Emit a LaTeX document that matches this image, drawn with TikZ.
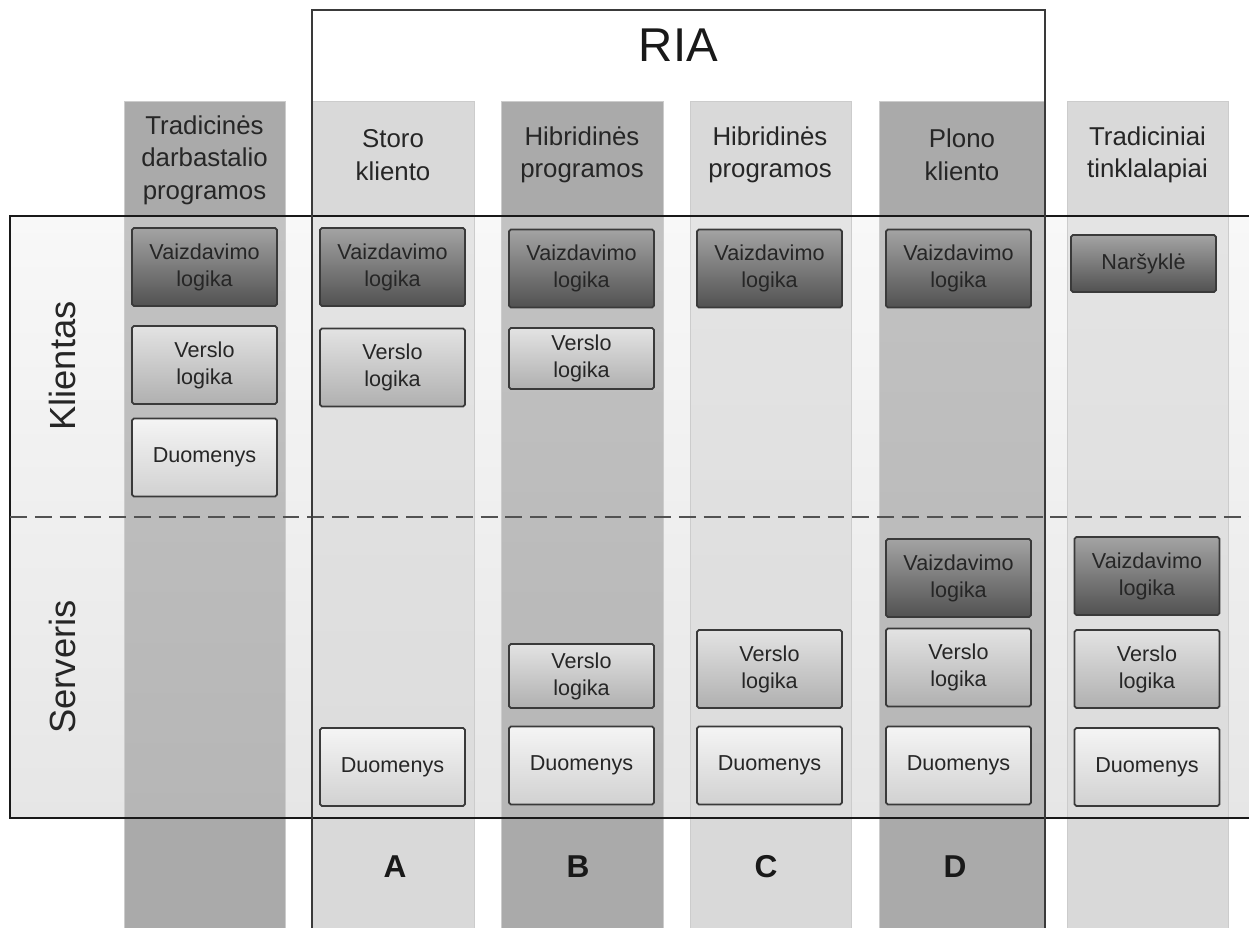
\documentclass[tikz,border=0pt]{standalone}
\usepackage{fontspec}
\setmainfont{Liberation Sans}
\definecolor{darkcol}{HTML}{AAAAAA}
\definecolor{lightcol}{HTML}{D9D9D9}
\definecolor{darkin}{HTML}{C2C2C2}
\definecolor{darkinb}{HTML}{B6B6B6}
\definecolor{lightin}{HTML}{E4E4E4}
\definecolor{lightinb}{HTML}{DCDCDC}
\definecolor{lanetop}{HTML}{F8F8F8}
\definecolor{lanebot}{HTML}{E6E6E6}
\definecolor{edge}{HTML}{3A3A3A}
\tikzset{
  box/.style={draw=edge, line width=1pt, rounded corners=1pt, minimum width=2.9cm,
    minimum height=1.56cm, align=center, inner sep=0pt, text=black!85,
    font=\fontsize{12.3}{15.3}\selectfont},
  viewbox/.style={box, top color=black!36, bottom color=black!68},
  logicbox/.style={box, top color=black!11, bottom color=black!31},
  databox/.style={box, top color=black!4, bottom color=black!18},
  headtext/.style={align=center, text=black!85, font=\fontsize{14.7}{18.5}\selectfont},
  lanetext/.style={rotate=90, text=black!85, font=\fontsize{20.7}{24}\selectfont},
  lettertext/.style={text=black!90, font=\fontsize{18}{20}\selectfont\bfseries},
  coledge/.style={draw=black!20, line width=0.5pt}
}
\begin{document}
\begin{tikzpicture}[x=0.02cm, y=-0.02cm]
\clip (0,0) rectangle (1249,928);
\fill[white] (0,0) rectangle (1249,928);

% lane background (Klientas / Serveris)
\shade[top color=lanetop, bottom color=lanebot] (10,216) rectangle (1270,818);

% dark columns: header part, lane part, footer part
\foreach \l/\r in {124/285, 501/663, 879/1044}{
  \fill[darkcol] (\l,101) rectangle (\r,216);
  \shade[top color=darkin, bottom color=darkinb] (\l,216) rectangle (\r,818);
  \fill[darkcol] (\l,818) rectangle (\r,940);
  \draw[coledge] (\l,940) -- (\l,101) -- (\r,101) -- (\r,940);
}
% light columns
\foreach \l/\r in {312/474, 690/851, 1067/1228}{
  \fill[lightcol] (\l,101) rectangle (\r,216);
  \shade[top color=lightin, bottom color=lightinb] (\l,216) rectangle (\r,818);
  \fill[lightcol] (\l,818) rectangle (\r,940);
  \draw[coledge] (\l,940) -- (\l,101) -- (\r,101) -- (\r,940);
}

% lane frame and the client/server divider
\draw[black!90, line width=0.9pt] (10,216) rectangle (1270,818);
\draw[black!68, line width=1.2pt, dash pattern=on 9.6pt off 4.5pt] (10,517) -- (1249,517);

% RIA frame
\draw[edge, line width=1pt] (312,940) -- (312,10) -- (1045,10) -- (1045,940);
\node[font=\fontsize{27}{30}\selectfont, text=black!90] (ria) at (678.5,45) {RIA};

% lane labels
\node[lanetext] (klientas) at (63,366) {Klientas};
\node[lanetext] (serveris) at (63,667) {Serveris};

% column headers
\node[headtext] (h0) at (204.5,160) {Tradicinės\\darbastalio\\programos};
\node[headtext] (h1) at (393,155) {Storo\\kliento};
\node[headtext] (h2) at (582,155) {Hibridinės\\programos};
\node[headtext] (h3) at (770,155) {Hibridinės\\programos};
\node[headtext] (h4) at (962,155) {Plono\\kliento};
\node[headtext] (h5) at (1147.5,155) {Tradiciniai\\tinklalapiai};

% column 0
\node[viewbox] (v0) at (204.5,267) {Vaizdavimo\\logika};
\node[logicbox] (l0) at (204.5,365) {Verslo\\logika};
\node[databox] (d0) at (204.5,457.5) {Duomenys};

% column A
\node[viewbox] (v1) at (392.5,267) {Vaizdavimo\\logika};
\node[logicbox] (l1) at (392.5,367.5) {Verslo\\logika};
\node[databox] (d1) at (392.5,767) {Duomenys};

% column B
\node[viewbox] (v2) at (581.5,268.5) {Vaizdavimo\\logika};
\node[logicbox, minimum height=1.22cm] (l2) at (581.5,358.5) {Verslo\\logika};
\node[logicbox, minimum height=1.28cm] (ls2) at (581.5,676) {Verslo\\logika};
\node[databox] (d2) at (581.5,765.5) {Duomenys};

% column C
\node[viewbox] (v3) at (769.5,268.5) {Vaizdavimo\\logika};
\node[logicbox] (ls3) at (769.5,669) {Verslo\\logika};
\node[databox] (d3) at (769.5,765.5) {Duomenys};

% column D
\node[viewbox] (v4) at (958.5,268.5) {Vaizdavimo\\logika};
\node[viewbox] (vs4) at (958.5,578) {Vaizdavimo\\logika};
\node[logicbox] (ls4) at (958.5,667.5) {Verslo\\logika};
\node[databox] (d4) at (958.5,765.5) {Duomenys};

% traditional web pages
\node[viewbox, minimum height=1.14cm] (n5) at (1143.5,263.5) {Naršyklė};
\node[viewbox] (vs5) at (1147,576) {Vaizdavimo\\logika};
\node[logicbox] (ls5) at (1147,669) {Verslo\\logika};
\node[databox] (d5) at (1147,767) {Duomenys};

% column letters
\node[lettertext] (la) at (395,867) {A};
\node[lettertext] (lb) at (578,867) {B};
\node[lettertext] (lc) at (766,867) {C};
\node[lettertext] (ld) at (955,867) {D};
\end{tikzpicture}
\end{document}
